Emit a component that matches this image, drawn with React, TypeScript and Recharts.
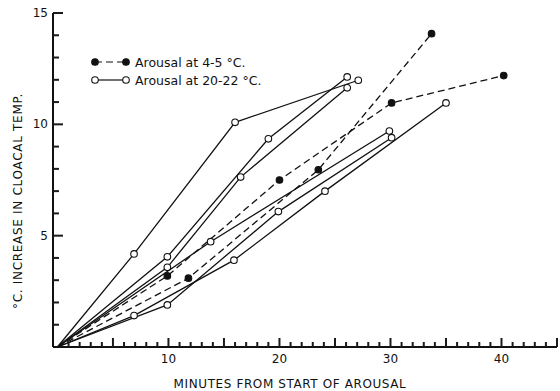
import { LineChart, Line, XAxis, YAxis } from "recharts";

const INK = "#111111";
const FONT = '"DejaVu Sans", Arial, sans-serif';

// arousal at 20-22 °C (open circles, solid lines)
const A_MIN = [0, 6.9, 16, 27.1];
const A_TEMP = [0, 4.18, 10.09, 11.98];
const B_MIN = [0, 9.9, 19, 26.1];
const B_TEMP = [0, 4.05, 9.35, 12.13];
const C_MIN = [0, 9.9, 16.5, 26.1];
const C_TEMP = [0, 3.58, 7.63, 11.64];
const D_MIN = [0, 13.8, 29.9];
const D_TEMP = [0, 4.73, 9.7];
const E_MIN = [0, 6.9, 15.9, 24.1, 35];
const E_TEMP = [0, 1.41, 3.9, 7.0, 10.96];
const F_MIN = [0, 9.9, 19.9, 30.1];
const F_TEMP = [0, 1.89, 6.08, 9.4];

// arousal at 4-5 °C (filled circles, dashed lines)
const G_MIN = [0, 9.9, 20, 30.1, 40.2];
const G_TEMP = [0, 3.19, 7.5, 10.96, 12.19];
const H_MIN = [0, 11.8, 23.5, 33.7];
const H_TEMP = [0, 3.09, 7.96, 14.07];

const X_TICKS = Array.from({ length: 45 }, (_, i) => i + 1);
const Y_TICKS = Array.from({ length: 15 }, (_, i) => i + 1);

const warm = [
  [A_MIN, A_TEMP],
  [B_MIN, B_TEMP],
  [C_MIN, C_TEMP],
  [D_MIN, D_TEMP],
  [E_MIN, E_TEMP],
  [F_MIN, F_TEMP],
].map(([xs, ys]) => xs.map((x, i) => ({ x, y: ys[i] })));

const cold = [
  [G_MIN, G_TEMP],
  [H_MIN, H_TEMP],
].map(([xs, ys]) => xs.map((x, i) => ({ x, y: ys[i] })));

const makeDot = (filled: boolean) => (props: any) => {
  const { cx, cy, payload, index } = props;
  if (payload.x === 0) return <g key={index} />;
  return (
    <circle
      key={index}
      cx={cx}
      cy={cy}
      r={3.3}
      fill={filled ? INK : "#fff"}
      stroke={INK}
      strokeWidth={1.1}
    />
  );
};

// ticks point inward, like the original drawing
function YTick(props: any) {
  const x = Number(props.x);
  const y = Number(props.y);
  const v = props.payload.value;
  const major = v % 5 === 0;
  return (
    <g>
      <path d={`M${x},${y}H${x + (major ? 10 : 6)}`} stroke="#1a1a1a" strokeWidth={2} fill="none" />
      <text x={x - 5} y={y} dy={4} textAnchor="end" fontSize={12} fontFamily={FONT} fill={major ? INK : "none"}>
        {major ? v : ""}
      </text>
    </g>
  );
}

function XTick(props: any) {
  const x = Number(props.x);
  const y = Number(props.y);
  const v = props.payload.value;
  const major = v % 5 === 0;
  return (
    <g>
      <path d={`M${x},${y}V${y - (major ? 9 : 5)}`} stroke="#1a1a1a" strokeWidth={2} fill="none" />
      <text x={x} y={y + 16} textAnchor="middle" fontSize={12} fontFamily={FONT} fill={INK}>
        {v % 10 === 0 ? v : ""}
      </text>
    </g>
  );
}

function LegendRow({ filled, label }: { filled: boolean; label: string }) {
  return (
    <div style={{ display: "flex", alignItems: "center", height: 18 }}>
      <svg width={40} height={12}>
        <line x1={4} y1={6} x2={35} y2={6} stroke={INK} strokeWidth={1.2} strokeDasharray={filled ? "7 4" : undefined} />
        <circle cx={4} cy={6} r={3.3} fill={filled ? INK : "#fff"} stroke={INK} strokeWidth={1.1} />
        <circle cx={35} cy={6} r={3.3} fill={filled ? INK : "#fff"} stroke={INK} strokeWidth={1.1} />
      </svg>
      <span style={{ marginLeft: 4, fontSize: 12.5, fontFamily: FONT, color: INK, whiteSpace: "nowrap" }}>{label}</span>
    </div>
  );
}

export default function App() {
  return (
    <div style={{ position: "absolute", left: 0, top: 0, width: 560, height: 391, background: "#fff" }}>
      <LineChart width={560} height={391} margin={{ top: 13, right: 3, bottom: 0, left: 0 }}>
        <XAxis
          type="number"
          dataKey="x"
          domain={[-0.4, 45]}
          ticks={X_TICKS}
          interval={0}
          tickSize={0}
          tickMargin={0}
          tickLine={false}
          tick={<XTick />}
          axisLine={{ stroke: INK, strokeWidth: 2 }}
          height={44}
        />
        <YAxis
          type="number"
          dataKey="y"
          domain={[0, 15]}
          ticks={Y_TICKS}
          interval={0}
          tickSize={0}
          tickMargin={0}
          tickLine={false}
          tick={<YTick />}
          axisLine={{ stroke: INK, strokeWidth: 2 }}
          width={53}
        />
        {warm.map((d, i) => (
          <Line
            key={`w${i}`}
            data={d}
            dataKey="y"
            type="linear"
            stroke={INK}
            strokeWidth={1.3}
            dot={makeDot(false)}
            activeDot={false}
            isAnimationActive={false}
          />
        ))}
        {cold.map((d, i) => (
          <Line
            key={`c${i}`}
            data={d}
            dataKey="y"
            type="linear"
            stroke={INK}
            strokeWidth={1.3}
            strokeDasharray="7 4"
            dot={makeDot(true)}
            activeDot={false}
            isAnimationActive={false}
          />
        ))}
      </LineChart>

      <div style={{ position: "absolute", left: 91, top: 53 }}>
        <LegendRow filled={true} label="Arousal at 4-5 °C." />
        <LegendRow filled={false} label="Arousal at 20-22 °C." />
      </div>

      <div
        style={{
          position: "absolute",
          left: 290,
          top: 377,
          transform: "translateX(-50%)",
          fontSize: 12,
          letterSpacing: 0.6,
          fontFamily: FONT,
          color: INK,
          whiteSpace: "nowrap",
        }}
      >
        MINUTES FROM START OF AROUSAL
      </div>

      <div
        style={{
          position: "absolute",
          left: 18,
          top: 201,
          transform: "translate(-50%, -50%) rotate(-90deg)",
          fontSize: 12,
          letterSpacing: 0.7,
          fontFamily: FONT,
          color: INK,
          whiteSpace: "nowrap",
        }}
      >
        °C. INCREASE IN CLOACAL TEMP.
      </div>
    </div>
  );
}
